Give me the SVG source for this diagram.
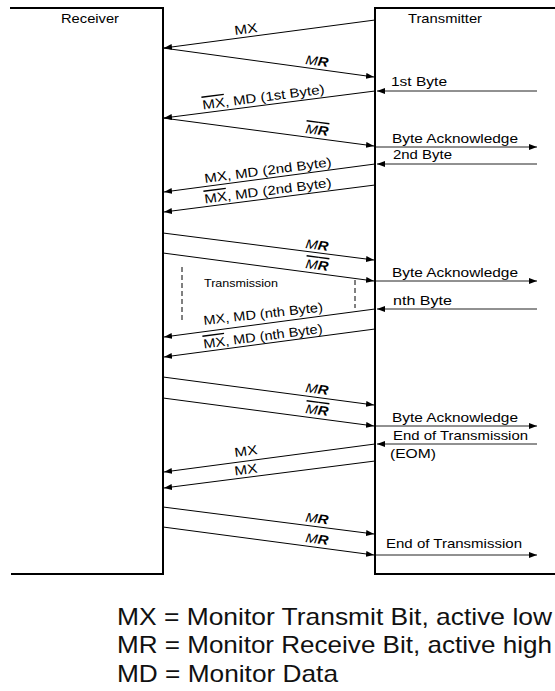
<svg xmlns="http://www.w3.org/2000/svg" width="555" height="691" viewBox="0 0 555 691">
<style>
.box{fill:none;stroke:#000;stroke-width:2}
.c{fill:none;stroke:#000;stroke-width:1}
.h{fill:none;stroke:#222;stroke-width:1}
.d{fill:none;stroke:#000;stroke-width:1;stroke-dasharray:5,3}
text{font-family:"Liberation Sans",Arial,sans-serif;fill:#000}
.t{font-size:13px}
.s{font-size:11px}
.lg{font-size:24px;fill:#111}
.ov{text-decoration:overline}
.i{font-style:italic}
.ib{font-style:italic;font-weight:bold}
</style>
<defs>
<marker id="ah" markerUnits="userSpaceOnUse" markerWidth="9" markerHeight="7" refX="8" refY="3" orient="auto">
<path d="M0,0 L8,3 L0,6 z" fill="#000"/>
</marker>
</defs>
<g id="receiver">
<path class="box" d="M10,8 H163 V574 H11"/>
<text class="t" x="61" y="23" textLength="58" lengthAdjust="spacingAndGlyphs">Receiver</text>
</g>
<g id="transmitter">
<path class="box" d="M555,8 H375 V574 H555"/>
<text class="t" x="408" y="23" textLength="74" lengthAdjust="spacingAndGlyphs">Transmitter</text>
<text class="t" x="391" y="86" textLength="56" lengthAdjust="spacingAndGlyphs">1st Byte</text>
<text class="t" x="392" y="143" textLength="126" lengthAdjust="spacingAndGlyphs">Byte  Acknowledge</text>
<text class="t" x="393" y="159" textLength="59" lengthAdjust="spacingAndGlyphs">2nd Byte</text>
<text class="t" x="392" y="277" textLength="126" lengthAdjust="spacingAndGlyphs">Byte  Acknowledge</text>
<text class="t" x="393" y="305" textLength="59" lengthAdjust="spacingAndGlyphs">nth  Byte</text>
<text class="t" x="392" y="422" textLength="126" lengthAdjust="spacingAndGlyphs">Byte  Acknowledge</text>
<text class="t" x="393" y="440" textLength="135" lengthAdjust="spacingAndGlyphs">End of Transmission</text>
<text class="t" x="390" y="458" textLength="46" lengthAdjust="spacingAndGlyphs">(EOM)</text>
<text class="t" x="386" y="548" textLength="136" lengthAdjust="spacingAndGlyphs">End of Transmission</text>
</g>
<g id="connectors">
<line class="c" x1="375" y1="20" x2="164" y2="48" marker-end="url(#ah)"/>
<line class="c" x1="163" y1="48" x2="374" y2="77" marker-end="url(#ah)"/>
<line class="c" x1="375" y1="91" x2="164" y2="118" marker-end="url(#ah)"/>
<line class="c" x1="163" y1="118" x2="374" y2="146" marker-end="url(#ah)"/>
<line class="c" x1="375" y1="164" x2="164" y2="192" marker-end="url(#ah)"/>
<line class="c" x1="375" y1="185" x2="164" y2="212" marker-end="url(#ah)"/>
<line class="c" x1="163" y1="233" x2="374" y2="260" marker-end="url(#ah)"/>
<line class="c" x1="163" y1="253" x2="374" y2="281" marker-end="url(#ah)"/>
<line class="c" x1="375" y1="309" x2="164" y2="337" marker-end="url(#ah)"/>
<line class="c" x1="375" y1="329" x2="164" y2="357" marker-end="url(#ah)"/>
<line class="c" x1="163" y1="377" x2="374" y2="405" marker-end="url(#ah)"/>
<line class="c" x1="163" y1="398" x2="374" y2="426" marker-end="url(#ah)"/>
<line class="c" x1="375" y1="444" x2="164" y2="472" marker-end="url(#ah)"/>
<line class="c" x1="375" y1="461" x2="164" y2="488" marker-end="url(#ah)"/>
<line class="c" x1="163" y1="507" x2="374" y2="534" marker-end="url(#ah)"/>
<line class="c" x1="163" y1="527" x2="374" y2="555" marker-end="url(#ah)"/>
<line class="h" x1="537" y1="91" x2="377" y2="91" marker-end="url(#ah)"/>
<line class="h" x1="376" y1="147" x2="537" y2="147" marker-end="url(#ah)"/>
<line class="h" x1="537" y1="164" x2="377" y2="164" marker-end="url(#ah)"/>
<line class="h" x1="376" y1="281" x2="537" y2="281" marker-end="url(#ah)"/>
<line class="h" x1="537" y1="309" x2="377" y2="309" marker-end="url(#ah)"/>
<line class="h" x1="376" y1="426" x2="537" y2="426" marker-end="url(#ah)"/>
<line class="h" x1="537" y1="444" x2="377" y2="444" marker-end="url(#ah)"/>
<line class="h" x1="376" y1="555" x2="537" y2="555" marker-end="url(#ah)"/>
<line class="d" x1="182" y1="267" x2="182" y2="323"/>
<line class="d" x1="355" y1="280" x2="355" y2="308"/>
<text class="t" x="235" y="35" transform="rotate(-7.5 235 35)" textLength="23" lengthAdjust="spacingAndGlyphs">MX</text>
<text class="t" x="305" y="64" transform="rotate(7.5 305 64)" textLength="23" lengthAdjust="spacingAndGlyphs"><tspan class="i">M</tspan><tspan class="ib">R</tspan></text>
<text class="t" x="203" y="109.5" transform="rotate(-7.5 203 109.5)" textLength="123" lengthAdjust="spacingAndGlyphs"><tspan class="ov">MX</tspan>, MD (1st Byte)</text>
<text class="t" x="305" y="133" transform="rotate(7.5 305 133)" textLength="23" lengthAdjust="spacingAndGlyphs"><tspan class="i ov">M</tspan><tspan class="ib ov">R</tspan></text>
<text class="t" x="205" y="183" transform="rotate(-7.5 205 183)" textLength="128" lengthAdjust="spacingAndGlyphs">MX, MD (2nd Byte)</text>
<text class="t" x="205" y="203.5" transform="rotate(-7.5 205 203.5)" textLength="128" lengthAdjust="spacingAndGlyphs"><tspan class="ov">MX</tspan>, MD (2nd Byte)</text>
<text class="t" x="305" y="248" transform="rotate(7.5 305 248)" textLength="23" lengthAdjust="spacingAndGlyphs"><tspan class="i">M</tspan><tspan class="ib">R</tspan></text>
<text class="t" x="305" y="268" transform="rotate(7.5 305 268)" textLength="23" lengthAdjust="spacingAndGlyphs"><tspan class="i ov">M</tspan><tspan class="ib ov">R</tspan></text>
<text class="s" x="204" y="287" textLength="74" lengthAdjust="spacingAndGlyphs">Transmission</text>
<text class="t" x="204" y="325" transform="rotate(-6.5 204 325)" textLength="120" lengthAdjust="spacingAndGlyphs">MX, MD (nth Byte)</text>
<text class="t" x="204" y="348.5" transform="rotate(-7.5 204 348.5)" textLength="120" lengthAdjust="spacingAndGlyphs"><tspan class="ov">MX</tspan>, MD (nth Byte)</text>
<text class="t" x="305" y="392" transform="rotate(7.5 305 392)" textLength="23" lengthAdjust="spacingAndGlyphs"><tspan class="i">M</tspan><tspan class="ib">R</tspan></text>
<text class="t" x="305" y="413" transform="rotate(7.5 305 413)" textLength="23" lengthAdjust="spacingAndGlyphs"><tspan class="i ov">M</tspan><tspan class="ib ov">R</tspan></text>
<text class="t" x="235" y="457" transform="rotate(-7.5 235 457)" textLength="23" lengthAdjust="spacingAndGlyphs">MX</text>
<text class="t" x="235" y="475.5" transform="rotate(-7.5 235 475.5)" textLength="23" lengthAdjust="spacingAndGlyphs">MX</text>
<text class="t" x="305" y="521.5" transform="rotate(7.5 305 521.5)" textLength="23" lengthAdjust="spacingAndGlyphs"><tspan class="i">M</tspan><tspan class="ib">R</tspan></text>
<text class="t" x="305" y="542" transform="rotate(7.5 305 542)" textLength="23" lengthAdjust="spacingAndGlyphs"><tspan class="i">M</tspan><tspan class="ib">R</tspan></text>
</g>
<g id="legend">
<text class="lg" x="117" y="625" textLength="435" lengthAdjust="spacingAndGlyphs">MX = Monitor Transmit Bit, active low</text>
<text class="lg" x="117" y="653" textLength="435" lengthAdjust="spacingAndGlyphs">MR = Monitor Receive Bit, active high</text>
<text class="lg" x="117" y="682" textLength="221" lengthAdjust="spacingAndGlyphs">MD = Monitor Data</text>
</g>
</svg>
